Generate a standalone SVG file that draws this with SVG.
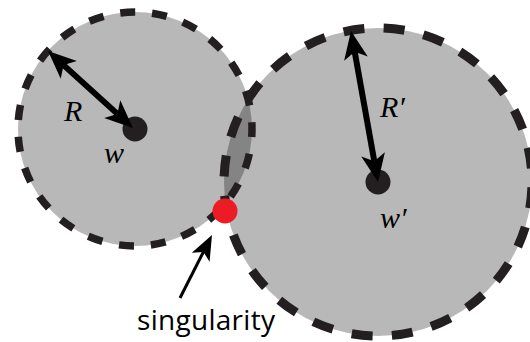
<svg xmlns="http://www.w3.org/2000/svg" width="530" height="342" viewBox="0 0 530 342">
  <style>
    .disk { fill: #000; fill-opacity: 0.28; stroke: none; }
    .rim { fill: none; stroke: #231f20; }
    .center { fill: #231f20; }
    .shaft { stroke: #000; stroke-linecap: butt; fill: none; }
    .math { font-family: "Liberation Serif", "Times New Roman", serif; font-style: italic; font-size: 30px; fill: #000; }
    .label { font-family: "Open Sans", "Noto Sans", sans-serif; font-size: 28px; fill: #000; }
  </style>
  <defs>
    <marker id="headBig" viewBox="-8 -13 30 26" refX="0" refY="0" markerWidth="30" markerHeight="26" markerUnits="userSpaceOnUse" orient="auto-start-reverse">
      <path d="M21,0 L-7,-12 L0,0 L-7,12 Z" fill="#000"/>
    </marker>
    <marker id="headSmall" viewBox="-7 -11 27 22" refX="0" refY="0" markerWidth="27" markerHeight="22" markerUnits="userSpaceOnUse" orient="auto">
      <path d="M19,0 L-6,-10 L0,0 L-6,10 Z" fill="#000"/>
    </marker>
  </defs>

  <g id="disks">
    <circle class="disk" cx="135" cy="129" r="117"/>
    <circle class="disk" cx="378" cy="182" r="154"/>
  </g>

  <g id="disk-w">
    <circle class="rim" cx="135" cy="129" r="117" stroke-width="7.5" stroke-dasharray="15 16.96" stroke-dashoffset="7"/>
    <circle class="center" cx="135" cy="129" r="12.5"/>
    <text class="math" x="104" y="163">w</text>
  </g>

  <g id="disk-w-prime">
    <circle class="rim" cx="378" cy="182" r="154" stroke-width="9" stroke-dasharray="21 19.32" stroke-dashoffset="35"/>
    <circle class="center" cx="378" cy="182" r="12.5"/>
    <text class="math" x="380" y="228">w′</text>
  </g>

  <g id="singularity">
    <circle cx="225" cy="211" r="12.5" fill="#ed1c24"/>
    <text class="label" x="137" y="330" textLength="138" lengthAdjust="spacing">singularity</text>
  </g>

  <g id="connectors">
    <line class="shaft" x1="63.6" y1="65.1" x2="117.4" y2="113.9" stroke-width="6" marker-start="url(#headBig)" marker-end="url(#headBig)"/>
    <line class="shaft" x1="354.7" y1="51.7" x2="374.3" y2="161.3" stroke-width="6" marker-start="url(#headBig)" marker-end="url(#headBig)"/>
    <line class="shaft" x1="180" y1="298" x2="203.4" y2="251.9" stroke-width="3" marker-end="url(#headSmall)"/>
  </g>

  <g id="labels">
    <text class="math" x="64" y="121">R</text>
    <text class="math" x="380" y="117">R′</text>
  </g>
</svg>
